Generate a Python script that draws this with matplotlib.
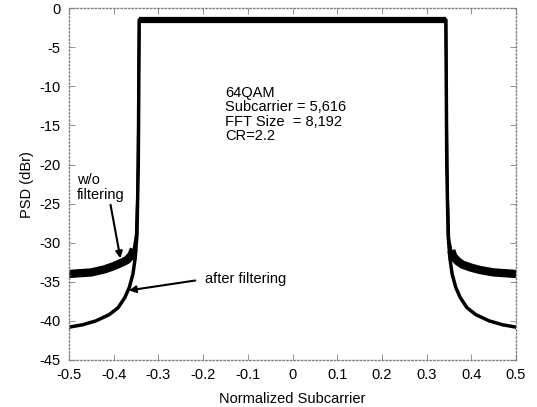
import matplotlib
matplotlib.use("Agg")
import matplotlib.pyplot as plt

plt.rcParams['font.family'] = ['Liberation Sans', 'DejaVu Sans']
plt.rcParams['axes.unicode_minus'] = False

# normalized subcarrier positions
x_wo = [-0.5, -0.45, -0.42, -0.40, -0.38, -0.37, -0.36, -0.355, -0.35, -0.347, -0.345, -0.343,
        -0.2, 0.0, 0.2,
        0.343, 0.345, 0.347, 0.35, 0.355, 0.36, 0.37, 0.38, 0.40, 0.42, 0.45, 0.5]
psd_wo = [-34.0, -33.8, -33.4, -33.0, -32.5, -32.2, -31.6, -30.8, -29.0, -24.0, -15.0, -1.5,
          -1.5, -1.5, -1.5,
          -1.5, -15.0, -24.0, -29.5, -31.0, -31.8, -32.4, -32.8, -33.2, -33.5, -33.8, -34.0]

x_filt = [-0.5, -0.47, -0.44, -0.41, -0.39, -0.375, -0.365, -0.357, -0.352, -0.348, -0.345, -0.343,
          -0.2, 0.0, 0.2,
          0.343, 0.345, 0.348, 0.352, 0.357, 0.365, 0.375, 0.39, 0.41, 0.44, 0.47, 0.5]
psd_filt = [-40.8, -40.5, -40.0, -39.2, -38.3, -37.0, -35.7, -34.0, -32.0, -29.0, -20.0, -1.5,
            -1.5, -1.5, -1.5,
            -1.5, -20.0, -29.0, -32.0, -34.0, -35.7, -37.0, -38.3, -39.2, -40.0, -40.5, -40.8]

xticks = [-0.5, -0.4, -0.3, -0.2, -0.1, 0, 0.1, 0.2, 0.3, 0.4, 0.5]
yticks = [0, -5, -10, -15, -20, -25, -30, -35, -40, -45]

fig = plt.figure(figsize=(5.37, 4.07), dpi=100)
ax = fig.add_axes([0.1285, 0.1155, 0.8325, 0.8645])

# thin outline of both curves, thicker where the noise makes the trace fat
ax.plot(x_wo, psd_wo, color='black', lw=1.8)
ax.plot(x_wo[:8], psd_wo[:8], color='black', lw=6, solid_capstyle='butt')
ax.plot(x_wo[-8:], psd_wo[-8:], color='black', lw=6, solid_capstyle='butt')
ax.plot(x_wo[11:16], psd_wo[11:16], color='black', lw=4.5, solid_capstyle='butt')
ax.plot(x_filt, psd_filt, color='black', lw=2.5)

ax.set_xlim(-0.5, 0.5)
ax.set_ylim(-45, 0)
ax.set_xticks(xticks)
ax.set_xticklabels(['-0.5', '-0.4', '-0.3', '-0.2', '-0.1', '0', '0.1', '0.2', '0.3', '0.4', '0.5'])
ax.set_yticks(yticks)
ax.tick_params(direction='in', length=4, width=0.6, color='gray', labelsize=10.5,
               top=True, right=True, pad=6)
for s in ax.spines.values():
    s.set_linestyle(':')
    s.set_color('gray')
    s.set_linewidth(1)

ax.set_xlabel('Normalized Subcarrier', fontsize=10.5, labelpad=7)
ax.set_ylabel('PSD (dBr)', fontsize=10.5, labelpad=4)

ax.text(-0.15, -9.9, '64QAM\nSubcarrier = 5,616\nFFT Size  = 8,192\nCR=2.2',
        fontsize=10.5, va='top', ha='left', linespacing=1.05)

ax.annotate('w/o\nfiltering', xy=(-0.385, -32.0), xytext=(-0.483, -24.8),
            fontsize=10.5, ha='left', va='bottom', linespacing=1.05,
            arrowprops=dict(arrowstyle='-|>', color='black', lw=1.5,
                            shrinkA=0, shrinkB=0, mutation_scale=10,
                            relpos=(0.7, 0.0)))
ax.annotate('after filtering', xy=(-0.366, -36.1), xytext=(-0.196, -34.65),
            fontsize=10.5, ha='left', va='center',
            arrowprops=dict(arrowstyle='-|>', color='black', lw=1.5,
                            shrinkA=5, shrinkB=0, mutation_scale=10,
                            relpos=(0.0, 0.5)))

fig.savefig('out.png', dpi=100)
